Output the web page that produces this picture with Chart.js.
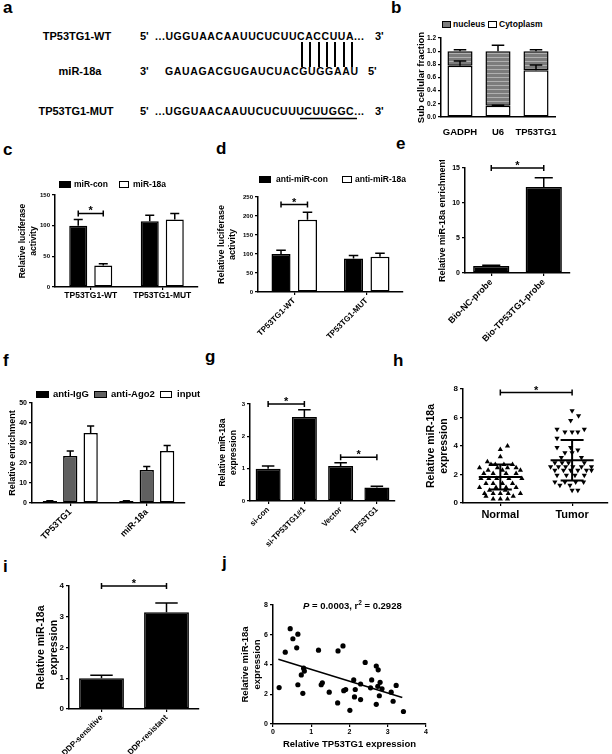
<!DOCTYPE html>
<html>
<head>
<meta charset="utf-8">
<script src="https://cdn.jsdelivr.net/npm/chart.js@4.4.1/dist/chart.umd.min.js"></script>
<style>
body { margin: 0; width: 612px; height: 754px; position: relative; overflow: hidden; background: #fff;
       font-family: "Liberation Sans", Arial, sans-serif; font-weight: bold; color: #000; }
.lbl { position: absolute; font-size: 17px; line-height: 17px; }
.leg { position: absolute; font-size: 8.5px; line-height: 10px; white-space: nowrap; }
.sw { position: absolute; border: 1px solid #000; box-sizing: border-box; }
svg { position: absolute; left: 0; top: 0; }
</style>
</head>
<body>

<svg width="400" height="130" font-family="Liberation Sans, Arial, sans-serif" font-weight="bold">
  <text x="77" y="40" font-size="11" text-anchor="middle">TP53TG1-WT</text>
  <text x="140" y="40" font-size="11">5'</text>
  <text x="155" y="40" font-size="10.5" textLength="209">...UGGUAACAAUUCUCUUCACCUUA...</text>
  <text x="375" y="40" font-size="11">3'</text>
  <text x="80" y="75" font-size="11" text-anchor="middle">miR-18a</text>
  <text x="140" y="75" font-size="11">3'</text>
  <text x="165" y="75" font-size="10.5" textLength="193">GAUAGACGUGAUCUACGUGGAAU</text>
  <text x="368" y="75" font-size="11">5'</text>
  <text x="76" y="115" font-size="11" text-anchor="middle">TP53TG1-MUT</text>
  <text x="140" y="115" font-size="11">5'</text>
  <text x="155" y="115" font-size="10.5" textLength="209">...UGGUAACAAUUCUCUUUCUUGGC...</text>
  <text x="375" y="115" font-size="11">3'</text>
  <g stroke="#000" stroke-width="2">
    <line x1="302" y1="42" x2="302" y2="67"/><line x1="310" y1="42" x2="310" y2="67"/>
    <line x1="319" y1="42" x2="319" y2="67"/><line x1="327" y1="42" x2="327" y2="67"/>
    <line x1="335" y1="42" x2="335" y2="67"/><line x1="344" y1="42" x2="344" y2="67"/>
    <line x1="352" y1="42" x2="352" y2="67"/>
  </g>
  <line x1="300" y1="118.5" x2="357" y2="118.5" stroke="#000" stroke-width="1.6"/>
</svg>

<div class="lbl" style="left:3px;top:-1px">a</div>
<div class="lbl" style="left:391px;top:-1px">b</div>
<div class="lbl" style="left:3px;top:141px">c</div>
<div class="lbl" style="left:216px;top:140px">d</div>
<div class="lbl" style="left:396px;top:135px">e</div>
<div class="lbl" style="left:3px;top:352px">f</div>
<div class="lbl" style="left:205px;top:348px">g</div>
<div class="lbl" style="left:393px;top:352px">h</div>
<div class="lbl" style="left:3px;top:558px">i</div>
<div class="lbl" style="left:222px;top:554px">j</div>

<script>
// ---- panel b: subcellular fraction
const fracCats = ['GADPH', 'U6', 'TP53TG1'];
const cytoplasm = [0.78, 0.17, 0.71];
const cytoErr = [0.07, 0.01, 0.08];
const nucleus = [0.22, 0.83, 0.29];
const nucleusErr = [0.02, 0.09, 0.02];

// ---- panel c: luciferase, miR-18a mimic
const lucCats = ['TP53TG1-WT', 'TP53TG1-MUT'];
const miRcon = [100, 107];
const miRconErr = [10, 10];
const miR18a = [35, 110];
const miR18aErr = [3, 10];

// ---- panel d: luciferase, anti-miR
const antiCon = [100, 88];
const antiConErr = [10, 8];
const anti18a = [190, 93];
const anti18aErr = [20, 9];

// ---- panel e: pull-down
const probeCats = ['Bio-NC-probe', 'Bio-TP53TG1-probe'];
const probeVals = [1.0, 12.3];
const probeErr = [0.1, 1.3];

// ---- panel f: RIP
const ripCats = ['TP53TG1', 'miR-18a'];
const antiIgG = [1.0, 1.0];
const antiIgGErr = [0.1, 0.1];
const antiAgo2 = [23.5, 16.5];
const antiAgo2Err = [2.5, 1.8];
const inputVals = [35, 26];
const inputErr = [3.5, 2.8];

// ---- panel g
const gCats = ['si-con', 'si-TP53TG1#1', 'Vector', 'TP53TG1'];
const gVals = [1.0, 2.6, 1.08, 0.42];
const gErr = [0.08, 0.22, 0.1, 0.04];

// ---- panel h: tissue dot plot
const hCats = ['Normal', 'Tumor'];
const normalVals = [4.0, 3.76, 3.25, 2.9, 2.7, 2.7, 2.7, 2.7, 2.47, 2.47, 2.47, 2.47, 2.3, 2.3, 2.3,
  2.07, 2.07, 2.07, 2.07, 1.72, 1.72, 1.72, 1.72, 1.72, 1.36, 1.36, 1.36, 1.36, 1.08, 1.08, 1.08, 1.08,
  0.9, 0.9, 0.66, 0.66, 0.66, 0.66, 0.66, 0.47, 0.47, 0.28, 0.28, 0.28];
const normalJit = [0.1, 0, 0, -0.18, -0.13, -0.07, 0.05, 0.17, -0.29, -0.04, 0.1, 0.22, -0.17, 0.03, 0.28,
  -0.23, -0.1, 0.08, 0.22, -0.27, -0.16, -0.05, 0.12, 0.3, -0.2, -0.1, 0.03, 0.17, -0.29, -0.06, 0.08, 0.22,
  -0.15, 0.07, -0.22, -0.1, 0, 0.11, 0.28, -0.2, 0.18, -0.1, 0, 0.1];
const tumorVals = [6.47, 6.12, 5.79, 5.18, 5.18, 4.99, 4.99, 4.99, 4.54, 3.9, 3.9, 3.72, 3.53, 3.53, 3.2, 3.2,
  2.82, 2.82, 2.82, 2.82, 2.54, 2.54, 2.54, 2.54, 2.54, 2.54, 2.3, 2.3, 2.3, 2.3, 2.3, 2.3,
  1.95, 1.95, 1.95, 1.95, 1.48, 1.48, 1.48, 1.48, 1.25, 1.25, 0.89, 0.89];
const tumorJit = [0, 0.09, -0.02, -0.21, 0.17, -0.1, 0, 0.08, -0.21, -0.21, -0.02, 0.08, -0.1, 0, -0.15, 0.13,
  -0.24, -0.14, -0.05, 0.17, -0.3, -0.19, -0.09, 0.01, 0.13, 0.27, -0.24, -0.12, -0.02, 0.08, 0.2, 0.27,
  -0.21, -0.08, 0.04, 0.17, -0.24, -0.1, 0.05, 0.16, -0.17, -0.03, 0, 0.08];
const hMean = [1.83, 3.0];
const hSD = [0.88, 1.42];

// ---- panel i
const iCats = ['DDP-sensitive', 'DDP-resistant'];
const iVals = [1.0, 3.15];
const iErr = [0.1, 0.3];

// ---- panel j: correlation
const jX = [0.16, 0.32, 0.45, 0.52, 0.62, 0.65, 0.65, 0.74, 0.78, 0.80, 0.82, 1.19, 1.26, 1.29, 1.47, 1.69,
  1.70, 1.83, 1.85, 1.90, 2.01, 2.11, 2.13, 2.15, 2.29, 2.29, 2.41, 2.55, 2.58, 2.70, 2.70, 2.75, 2.74,
  2.78, 2.80, 2.85, 3.09, 3.14, 3.22, 3.41];
const jY = [2.45, 4.83, 6.41, 5.73, 5.12, 6.04, 2.64, 3.30, 2.06, 3.75, 3.56, 4.96, 2.64, 2.77, 2.14, 1.42,
  4.91, 5.25, 2.24, 2.32, 0.92, 2.96, 1.82, 2.32, 1.64, 2.69, 4.14, 2.43, 2.96, 1.32, 3.90, 3.64, 2.53,
  1.90, 2.80, 2.37, 2.14, 1.53, 2.59, 0.84];
const fitX = [0.14, 3.38];
const fitY = [4.35, 1.78];

Chart.defaults.font.family = '"Liberation Sans", Arial, sans-serif';
Chart.defaults.font.weight = 'bold';
Chart.defaults.color = '#000';
Chart.defaults.animation = false;
Chart.defaults.plugins.legend.display = false;
Chart.defaults.plugins.tooltip.enabled = false;

// error bars drawn upward from each bar top
const errorBars = {
  id: 'errorBars',
  afterDatasetsDraw(chart) {
    const ctx = chart.ctx, y = chart.scales.y;
    chart.data.datasets.forEach((ds, di) => {
      if (!ds.errors) return;
      chart.getDatasetMeta(di).data.forEach((bar, i) => {
        const err = ds.errors[i];
        if (!err) return;
        const yEnd = y.getPixelForValue(y.getValueForPixel(bar.y) + err);
        const half = bar.width * 0.25;
        ctx.save();
        ctx.strokeStyle = '#000';
        ctx.lineWidth = 1.5;
        ctx.beginPath();
        ctx.moveTo(bar.x, bar.y); ctx.lineTo(bar.x, yEnd);
        ctx.moveTo(bar.x - half, yEnd); ctx.lineTo(bar.x + half, yEnd);
        ctx.stroke();
        ctx.restore();
      });
    });
  }
};

// significance brackets with a star
const sigBars = {
  id: 'sigBars',
  afterDatasetsDraw(chart, args, opts) {
    const ctx = chart.ctx;
    const px = ref => Array.isArray(ref) ? chart.getDatasetMeta(ref[0]).data[ref[1]].x : chart.scales.x.getPixelForValue(ref);
    (opts.bars || []).forEach(s => {
      const x1 = px(s.from), x2 = px(s.to), yy = chart.scales.y.getPixelForValue(s.y);
      ctx.save();
      ctx.strokeStyle = '#000';
      ctx.lineWidth = 1.5;
      ctx.beginPath();
      ctx.moveTo(x1, yy); ctx.lineTo(x2, yy);
      ctx.moveTo(x1, yy - 3); ctx.lineTo(x1, yy + 3);
      ctx.moveTo(x2, yy - 3); ctx.lineTo(x2, yy + 3);
      ctx.stroke();
      ctx.fillStyle = '#000';
      ctx.font = 'bold 11px "Liberation Sans", Arial';
      ctx.textAlign = 'center';
      ctx.fillText('*', (x1 + x2) / 2, yy + 1);
      ctx.restore();
    });
  }
};

// mean and SD lines for the dot plot
const meanSD = {
  id: 'meanSD',
  afterDatasetsDraw(chart, args, opts) {
    const ctx = chart.ctx, x = chart.scales.x, y = chart.scales.y;
    opts.mean.forEach((m, i) => {
      const cx = i + 1;
      const line = (v, hw) => {
        ctx.moveTo(x.getPixelForValue(cx - hw), y.getPixelForValue(v));
        ctx.lineTo(x.getPixelForValue(cx + hw), y.getPixelForValue(v));
      };
      ctx.save();
      ctx.strokeStyle = '#000';
      ctx.lineWidth = 2;
      ctx.beginPath();
      line(m, 0.3);
      line(m + opts.sd[i], 0.16);
      line(m - opts.sd[i], 0.16);
      ctx.moveTo(x.getPixelForValue(cx), y.getPixelForValue(m + opts.sd[i]));
      ctx.lineTo(x.getPixelForValue(cx), y.getPixelForValue(m - opts.sd[i]));
      ctx.stroke();
      ctx.restore();
    });
  }
};

function panel(x, y, w, h, plot) {
  const c = document.createElement('canvas');
  c.width = w; c.height = h;
  c.style.cssText = `position:absolute;left:${x}px;top:${y}px;width:${w}px;height:${h}px`;
  document.body.appendChild(c);
  return { canvas: c, yW: plot.l - x, padTop: plot.t - y, padRight: x + w - plot.r, xH: y + h - plot.b };
}

function layout(p) {
  return { padding: { left: 0, top: p.padTop, right: p.padRight, bottom: 0 } };
}

function yScale(p, min, max, step, title, tsize, fsize, extra) {
  return Object.assign({
    min: min, max: max,
    ticks: { stepSize: step, font: { size: tsize }, padding: 2 },
    grid: { drawOnChartArea: false, tickLength: 3, color: '#000', lineWidth: 1.2 },
    border: { color: '#000', width: 1.5 },
    title: { display: true, text: title, font: { size: fsize }, padding: 0 },
    afterFit(s) { s.width = p.yW; s.paddingTop = 0; s.paddingBottom = 0; }
  }, extra || {});
}

function xScale(p, tsize, rot, extra) {
  return Object.assign({
    ticks: { font: { size: tsize }, minRotation: rot, maxRotation: rot, autoSkip: false, padding: 1 },
    grid: { drawOnChartArea: false, offset: false, tickLength: 3, color: '#000', lineWidth: 1.2 },
    border: { color: '#000', width: 1.5 },
    afterFit(s) { s.height = p.xH; s.paddingLeft = 0; s.paddingRight = 0; }
  }, extra || {});
}

function bar(label, data, errors, fill, cp, bp) {
  return { label, data, errors, backgroundColor: fill, borderColor: '#000', borderWidth: 1.5,
           borderSkipped: false, categoryPercentage: cp, barPercentage: bp };
}

function stripes() {
  const c = document.createElement('canvas');
  c.width = 4; c.height = 4;
  const g = c.getContext('2d');
  g.fillStyle = '#7c7c7c'; g.fillRect(0, 0, 4, 4);
  g.fillStyle = '#b0b0b0'; g.fillRect(0, 3, 4, 1);
  return g.createPattern(c, 'repeat');
}

// b
let p = panel(416, 30, 154, 107, { l: 441, r: 555, t: 38, b: 117 });
new Chart(p.canvas, {
  type: 'bar',
  data: { labels: fracCats, datasets: [
    bar('Cytoplasm', cytoplasm, cytoErr, '#fff', 1, 0.66),
    bar('nucleus', nucleus, nucleusErr, stripes(), 1, 0.66)
  ] },
  options: {
    responsive: false, layout: layout(p),
    scales: {
      x: xScale(p, 9.5, 0, { stacked: true, grid: { display: false },
        ticks: { font: { size: 9.5 }, padding: 2, minRotation: 0, maxRotation: 0, autoSkip: false } }),
      y: yScale(p, 0, 1.2, 0.2, 'Sub cellular fraction', 6.5, 9.5, { stacked: true,
        ticks: { stepSize: 0.2, font: { size: 6.5 }, padding: 2, callback: v => v.toFixed(1) } })
    }
  },
  plugins: [errorBars]
});

// c
p = panel(18, 187, 184, 114, { l: 55, r: 198, t: 195, b: 287 });
new Chart(p.canvas, {
  type: 'bar',
  data: { labels: lucCats, datasets: [
    bar('miR-con', miRcon, miRconErr, '#000', 0.7, 0.72),
    bar('miR-18a', miR18a, miR18aErr, '#fff', 0.7, 0.72)
  ] },
  options: {
    responsive: false, layout: layout(p),
    scales: {
      x: xScale(p, 8.5, 0),
      y: yScale(p, 0, 150, 50, ['Relative luciferase', 'activity'], 6, 8.5)
    },
    plugins: { sigBars: { bars: [{ from: [0, 0], to: [1, 0], y: 120 }] } }
  },
  plugins: [errorBars, sigBars]
});

// d
p = panel(216, 189, 194, 158, { l: 258, r: 403, t: 197, b: 292 });
new Chart(p.canvas, {
  type: 'bar',
  data: { labels: lucCats, datasets: [
    bar('anti-miR-con', antiCon, antiConErr, '#000', 0.73, 0.72),
    bar('anti-miR-18a', anti18a, anti18aErr, '#fff', 0.73, 0.72)
  ] },
  options: {
    responsive: false, layout: layout(p),
    scales: {
      x: xScale(p, 8, 45),
      y: yScale(p, 0, 250, 50, ['Relative luciferase', 'activity'], 6, 9)
    },
    plugins: { sigBars: { bars: [{ from: [0, 0], to: [1, 0], y: 230 }] } }
  },
  plugins: [errorBars, sigBars]
});

// e
p = panel(437, 160, 138, 195, { l: 465, r: 570, t: 168, b: 273 });
new Chart(p.canvas, {
  type: 'bar',
  data: { labels: probeCats, datasets: [bar('enrichment', probeVals, probeErr, '#000', 1, 0.69)] },
  options: {
    responsive: false, layout: layout(p),
    scales: {
      x: xScale(p, 9, 45),
      y: yScale(p, 0, 15, 5, 'Relative miR-18a enrichment', 7, 9)
    },
    plugins: { sigBars: { bars: [{ from: [0, 0], to: [0, 1], y: 15 }] } }
  },
  plugins: [errorBars, sigBars]
});

// f
p = panel(7, 395, 183, 150, { l: 32, r: 185, t: 403, b: 503 });
new Chart(p.canvas, {
  type: 'bar',
  data: { labels: ripCats, datasets: [
    bar('anti-IgG', antiIgG, antiIgGErr, '#000', 0.8, 0.7),
    bar('anti-Ago2', antiAgo2, antiAgo2Err, '#606060', 0.8, 0.7),
    bar('input', inputVals, inputErr, '#fff', 0.8, 0.7)
  ] },
  options: {
    responsive: false, layout: layout(p),
    scales: {
      x: xScale(p, 9, 45),
      y: yScale(p, 0, 50, 10, 'Relative enrichment', 7, 9)
    }
  },
  plugins: [errorBars]
});

// g
p = panel(218, 396, 182, 160, { l: 250, r: 395, t: 404, b: 501 });
new Chart(p.canvas, {
  type: 'bar',
  data: { labels: gCats, datasets: [bar('miR-18a', gVals, gErr, '#000', 1, 0.69)] },
  options: {
    responsive: false, layout: layout(p),
    scales: {
      x: xScale(p, 8, 45),
      y: yScale(p, 0, 3, 1, ['Relative miR-18a', 'expression'], 6, 8.5)
    },
    plugins: { sigBars: { bars: [{ from: [0, 0], to: [0, 1], y: 3.0 }, { from: [0, 2], to: [0, 3], y: 1.35 }] } }
  },
  plugins: [errorBars, sigBars]
});

// h
p = panel(425, 381, 187, 142, { l: 463, r: 610, t: 389, b: 503 });
new Chart(p.canvas, {
  type: 'scatter',
  data: { datasets: [
    { label: 'Normal', data: normalVals.map((v, i) => ({ x: 1 + normalJit[i], y: v })),
      pointStyle: 'triangle', pointRadius: 3, backgroundColor: '#000', borderColor: '#000', borderWidth: 0 },
    { label: 'Tumor', data: tumorVals.map((v, i) => ({ x: 2 + tumorJit[i], y: v })),
      pointStyle: 'triangle', rotation: 180, pointRadius: 3, backgroundColor: '#000', borderColor: '#000', borderWidth: 0 }
  ] },
  options: {
    responsive: false, layout: layout(p),
    scales: {
      x: xScale(p, 11, 0, { type: 'linear', min: 0.48, max: 2.5,
        afterBuildTicks(s) { s.ticks = hCats.map((c, i) => ({ value: i + 1 })); },
        ticks: { font: { size: 11 }, padding: 2, minRotation: 0, maxRotation: 0, callback: v => hCats[v - 1] } }),
      y: yScale(p, 0, 8, 2, ['Relative miR-18a', 'expression'], 8, 10.5)
    },
    plugins: {
      meanSD: { mean: hMean, sd: hSD },
      sigBars: { bars: [{ from: 1, to: 2, y: 7.75 }] }
    }
  },
  plugins: [meanSD, sigBars]
});

// i
p = panel(35, 578, 170, 176, { l: 69, r: 199, t: 586, b: 709 });
new Chart(p.canvas, {
  type: 'bar',
  data: { labels: iCats, datasets: [bar('miR-18a', iVals, iErr, '#000', 1, 0.69)] },
  options: {
    responsive: false, layout: layout(p),
    scales: {
      x: xScale(p, 8, 45),
      y: yScale(p, 0, 4, 1, ['Relative miR-18a', 'expression'], 8, 10.5)
    },
    plugins: { sigBars: { bars: [{ from: [0, 0], to: [0, 1], y: 4.0 }] } }
  },
  plugins: [errorBars, sigBars]
});

// j
p = panel(240, 597, 192, 155, { l: 273, r: 426, t: 605, b: 724 });
new Chart(p.canvas, {
  type: 'scatter',
  data: { datasets: [
    { label: 'samples', data: jX.map((v, i) => ({ x: v, y: jY[i] })), pointRadius: 2.6,
      backgroundColor: '#000', borderWidth: 0 },
    { label: 'fit', data: fitX.map((v, i) => ({ x: v, y: fitY[i] })), showLine: true, pointRadius: 0,
      borderColor: '#000', borderWidth: 1.5 }
  ] },
  options: {
    responsive: false, layout: layout(p),
    scales: {
      x: xScale(p, 7, 0, { type: 'linear', min: 0, max: 4,
        ticks: { stepSize: 1, font: { size: 7 }, padding: 1, minRotation: 0, maxRotation: 0 },
        title: { display: true, text: 'Relative TP53TG1 expression', font: { size: 9.5 }, padding: 2 } }),
      y: yScale(p, 0, 8, 2, ['Relative miR-18a', 'expression'], 7, 9.5)
    }
  }
});
</script>

<!-- legends -->
<span class="sw" style="left:442px;top:21px;width:9px;height:7px;background:#7c7c7c"></span>
<div class="leg" style="left:453px;top:19px">nucleus</div>
<span class="sw" style="left:488px;top:21px;width:9px;height:7px;background:#fff"></span>
<div class="leg" style="left:499px;top:19px">Cytoplasm</div>

<span class="sw" style="left:59px;top:181px;width:12px;height:7px;background:#000"></span>
<div class="leg" style="left:74px;top:179px">miR-con</div>
<span class="sw" style="left:119px;top:181px;width:10px;height:7px;background:#fff"></span>
<div class="leg" style="left:133px;top:179px">miR-18a</div>

<span class="sw" style="left:259px;top:176px;width:12px;height:7px;background:#000"></span>
<div class="leg" style="left:276px;top:174px">anti-miR-con</div>
<span class="sw" style="left:342px;top:176px;width:10px;height:7px;background:#fff"></span>
<div class="leg" style="left:355px;top:174px">anti-miR-18a</div>

<span class="sw" style="left:36px;top:391px;width:13px;height:7px;background:#000"></span>
<div class="leg" style="left:53px;top:389px;font-size:9.5px">anti-IgG</div>
<span class="sw" style="left:94px;top:391px;width:13px;height:7px;background:#606060"></span>
<div class="leg" style="left:111px;top:389px;font-size:9.5px">anti-Ago2</div>
<span class="sw" style="left:160px;top:391px;width:12px;height:7px;background:#fff"></span>
<div class="leg" style="left:177px;top:389px;font-size:9.5px">input</div>

<div class="leg" style="left:303px;top:598px;font-size:9.5px"><i>P</i> = 0.0003, r<sup style="font-size:6.5px">2</sup> = 0.2928</div>
</body>
</html>
